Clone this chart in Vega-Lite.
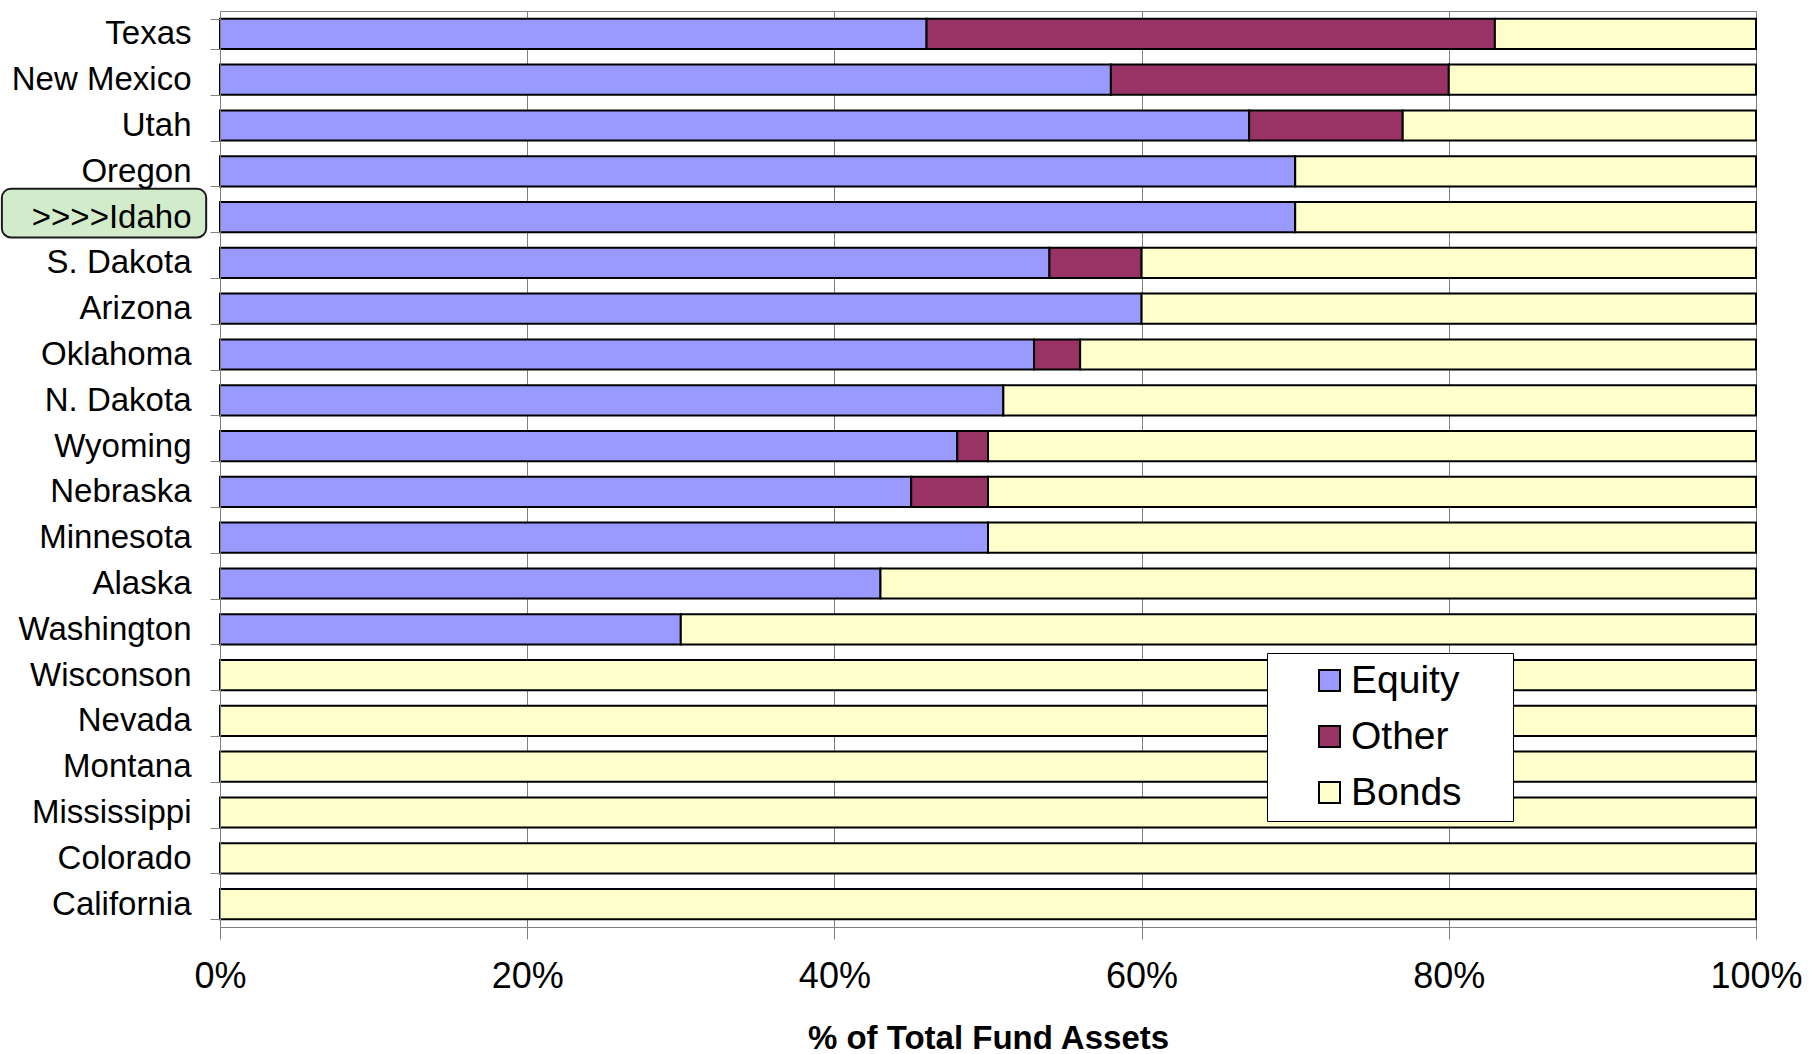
{
  "$schema": "https://vega.github.io/schema/vega-lite/v6.json",
  "width": 1536,
  "height": 916,
  "autosize": {"type": "none"},
  "padding": {"left": 220, "top": 11, "right": 54, "bottom": 127},
  "background": "white",
  "config": {
    "font": "Liberation Sans",
    "view": {"stroke": "#808080", "strokeWidth": 1}
  },
  "data": {
    "values": [
      {"state": "Texas", "asset": "Equity", "pct": 46},
      {"state": "Texas", "asset": "Other", "pct": 37},
      {"state": "Texas", "asset": "Bonds", "pct": 17},
      {"state": "New Mexico", "asset": "Equity", "pct": 58},
      {"state": "New Mexico", "asset": "Other", "pct": 22},
      {"state": "New Mexico", "asset": "Bonds", "pct": 20},
      {"state": "Utah", "asset": "Equity", "pct": 67},
      {"state": "Utah", "asset": "Other", "pct": 10},
      {"state": "Utah", "asset": "Bonds", "pct": 23},
      {"state": "Oregon", "asset": "Equity", "pct": 70},
      {"state": "Oregon", "asset": "Bonds", "pct": 30},
      {"state": ">>>>Idaho", "asset": "Equity", "pct": 70},
      {"state": ">>>>Idaho", "asset": "Bonds", "pct": 30},
      {"state": "S. Dakota", "asset": "Equity", "pct": 54},
      {"state": "S. Dakota", "asset": "Other", "pct": 6},
      {"state": "S. Dakota", "asset": "Bonds", "pct": 40},
      {"state": "Arizona", "asset": "Equity", "pct": 60},
      {"state": "Arizona", "asset": "Bonds", "pct": 40},
      {"state": "Oklahoma", "asset": "Equity", "pct": 53},
      {"state": "Oklahoma", "asset": "Other", "pct": 3},
      {"state": "Oklahoma", "asset": "Bonds", "pct": 44},
      {"state": "N. Dakota", "asset": "Equity", "pct": 51},
      {"state": "N. Dakota", "asset": "Bonds", "pct": 49},
      {"state": "Wyoming", "asset": "Equity", "pct": 48},
      {"state": "Wyoming", "asset": "Other", "pct": 2},
      {"state": "Wyoming", "asset": "Bonds", "pct": 50},
      {"state": "Nebraska", "asset": "Equity", "pct": 45},
      {"state": "Nebraska", "asset": "Other", "pct": 5},
      {"state": "Nebraska", "asset": "Bonds", "pct": 50},
      {"state": "Minnesota", "asset": "Equity", "pct": 50},
      {"state": "Minnesota", "asset": "Bonds", "pct": 50},
      {"state": "Alaska", "asset": "Equity", "pct": 43},
      {"state": "Alaska", "asset": "Bonds", "pct": 57},
      {"state": "Washington", "asset": "Equity", "pct": 30},
      {"state": "Washington", "asset": "Bonds", "pct": 70},
      {"state": "Wisconson", "asset": "Bonds", "pct": 100},
      {"state": "Nevada", "asset": "Bonds", "pct": 100},
      {"state": "Montana", "asset": "Bonds", "pct": 100},
      {"state": "Mississippi", "asset": "Bonds", "pct": 100},
      {"state": "Colorado", "asset": "Bonds", "pct": 100},
      {"state": "California", "asset": "Bonds", "pct": 100}
    ]
  },
  "layer": [
    {
      "transform": [
        {"calculate": "indexof(['Equity', 'Other', 'Bonds'], datum.asset)", "as": "assetRank"}
      ],
      "mark": {"type": "bar", "stroke": "black", "strokeWidth": 2},
      "encoding": {
        "y": {
          "field": "state",
          "type": "nominal",
          "scale": {
            "domain": ["Texas", "New Mexico", "Utah", "Oregon", ">>>>Idaho", "S. Dakota", "Arizona", "Oklahoma", "N. Dakota", "Wyoming", "Nebraska", "Minnesota", "Alaska", "Washington", "Wisconson", "Nevada", "Montana", "Mississippi", "Colorado", "California"],
            "paddingInner": 0.34,
            "paddingOuter": 0.17
          },
          "axis": {
            "title": null,
            "tickBand": "extent",
            "tickSize": 10,
            "tickColor": "#808080",
            "domainColor": "#808080",
            "labelFontSize": 33,
            "labelPadding": 19,
            "labelColor": "black",
            "labelLimit": 0,
            "zindex": 1
          }
        },
        "x": {
          "field": "pct",
          "type": "quantitative",
          "stack": "zero",
          "scale": {"domain": [0, 100], "nice": false},
          "axis": {
            "values": [0, 20, 40, 60, 80, 100],
            "labelExpr": "datum.value + '%'",
            "grid": true,
            "gridColor": "#808080",
            "gridWidth": 1,
            "domainColor": "#808080",
            "tickColor": "#808080",
            "tickSize": 12,
            "labelFontSize": 36,
            "labelPadding": 20,
            "labelColor": "black",
            "labelFlush": false,
            "labelOverlap": false,
            "title": "% of Total Fund Assets",
            "titleFontSize": 33,
            "titleFontWeight": "bold",
            "titleColor": "black",
            "titleY": 121,
            "titleBaseline": "alphabetic"
          }
        },
        "order": {"field": "assetRank", "type": "quantitative"},
        "color": {
          "field": "asset",
          "type": "nominal",
          "sort": ["Equity", "Other", "Bonds"],
          "scale": {"domain": ["Equity", "Other", "Bonds"], "range": ["#9999FF", "#993366", "#FFFFCC"]},
          "legend": {
            "title": null,
            "orient": "none",
            "legendX": 1047,
            "legendY": 642,
            "fillColor": "white",
            "strokeColor": "black",
            "padding": 8,
            "symbolType": "square",
            "symbolSize": 441,
            "symbolStrokeColor": "black",
            "symbolStrokeWidth": 2,
            "symbolOffset": 35,
            "labelFontSize": 39,
            "labelColor": "black",
            "labelOffset": 2,
            "labelLimit": 300,
            "rowPadding": 16,
            "labelExpr": "datum.label + '    \u200B'"
          }
        }
      }
    },
    {
      "transform": [{"filter": "datum.state === '>>>>Idaho' && datum.asset === 'Equity'"}],
      "mark": {
        "type": "bar",
        "fill": "#D2ECCB",
        "stroke": "#1a1a1a",
        "strokeWidth": 2,
        "cornerRadius": 9,
        "height": {"band": 1.61},
        "yOffset": -4,
        "clip": false
      },
      "encoding": {
        "y": {"field": "state", "type": "nominal"},
        "x": {"datum": -14.2, "type": "quantitative"},
        "x2": {"datum": -0.9}
      }
    }
  ]
}
